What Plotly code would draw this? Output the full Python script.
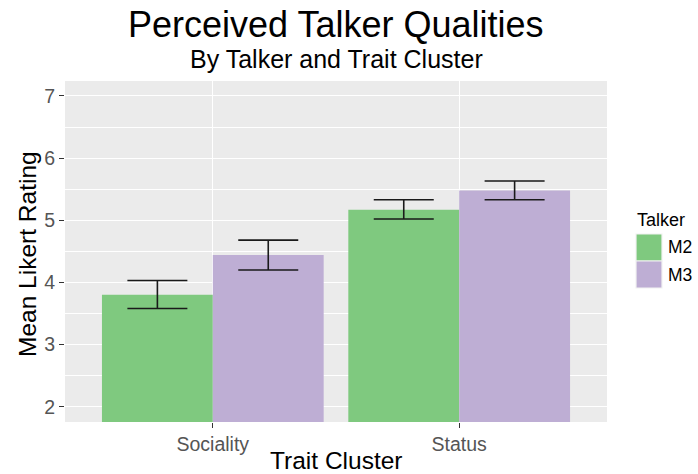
import plotly.graph_objects as go

categories = ["Sociality", "Status"]
talkers = ["M2", "M3"]
means = {"M2": [3.80, 5.17], "M3": [4.44, 5.48]}
err_hi = {"M2": [4.03, 5.33], "M3": [4.68, 5.63]}
err_lo = {"M2": [3.58, 5.02], "M3": [4.20, 5.33]}
colors = {"M2": "#7FC97F", "M3": "#BEAED4"}
y_ticks = [2, 3, 4, 5, 6, 7]

W, H = 698, 474
L, R, T, B = 65, 607, 81, 422

fig = go.Figure()
for t in talkers:
    fig.add_trace(go.Bar(
        x=categories, y=means[t], name=t,
        marker=dict(color=colors[t], line=dict(width=0)),
        error_y=dict(
            type="data", symmetric=False,
            array=[h - m for h, m in zip(err_hi[t], means[t])],
            arrayminus=[m - l for l, m in zip(err_lo[t], means[t])],
            color="#1a1a1a", thickness=1.6, width=30,
        ),
        showlegend=False,
    ))

fig.update_layout(
    width=W, height=H,
    margin=dict(l=L, r=W - R, t=T, b=H - B, pad=0),
    paper_bgcolor="white", plot_bgcolor="#EBEBEB",
    barmode="group", bargap=0.1, bargroupgap=0,
    font=dict(family="Liberation Sans, Arial, sans-serif", color="#000"),
)
fig.update_xaxes(
    type="category", range=[-0.6, 1.6],
    showgrid=True, gridcolor="white", gridwidth=1.4,
    ticks="outside", ticklen=5, tickwidth=1.2, tickcolor="#333333",
    tickfont=dict(size=19.5, color="#555555"),
    showline=False, zeroline=False,
)
fig.update_yaxes(
    range=[1.754, 7.24], tickvals=y_ticks,
    showgrid=True, gridcolor="white", gridwidth=1.4,
    minor=dict(dtick=0.5, tick0=1.5, showgrid=True, gridcolor="white", gridwidth=0.7),
    ticks="outside", ticklen=5, tickwidth=1.2, tickcolor="#333333",
    tickfont=dict(size=19.5, color="#555555"),
    showline=False, zeroline=False,
)

def px(x):
    return (x - L) / (R - L)

def py(y):
    return (B - y) / (B - T)

ann = [
    dict(text="Perceived Talker Qualities", x=0.5, y=py(25), font=dict(size=36)),
    dict(text="By Talker and Trait Cluster", x=0.5, y=py(59), font=dict(size=25)),
    dict(text="Trait Cluster", x=0.5, y=py(461), font=dict(size=24.5)),
    dict(text="Mean Likert Rating", x=px(27), y=py(254), font=dict(size=24.5), textangle=-90),
    dict(text="Talker", x=px(635), y=py(220), font=dict(size=18), xanchor="left"),
    dict(text="M2", x=px(666), y=py(247), font=dict(size=17.5), xanchor="left"),
    dict(text="M3", x=px(666), y=py(275), font=dict(size=17.5), xanchor="left"),
]
for a in ann:
    a.setdefault("xanchor", "center")
    fig.add_annotation(xref="paper", yref="paper", showarrow=False, yanchor="middle", **a)

for t, (y0, y1) in zip(talkers, [(234, 261), (261, 288)]):
    fig.add_shape(type="rect", xref="paper", yref="paper",
                  x0=px(636), x1=px(662), y0=py(y1), y1=py(y0),
                  fillcolor=colors[t], line=dict(color="#F2F2F2", width=1.2))

fig.write_html(
    "out.html",
    config={"displayModeBar": False},
    post_script="document.body.style.margin='0px';document.body.style.overflow='hidden';",
)
